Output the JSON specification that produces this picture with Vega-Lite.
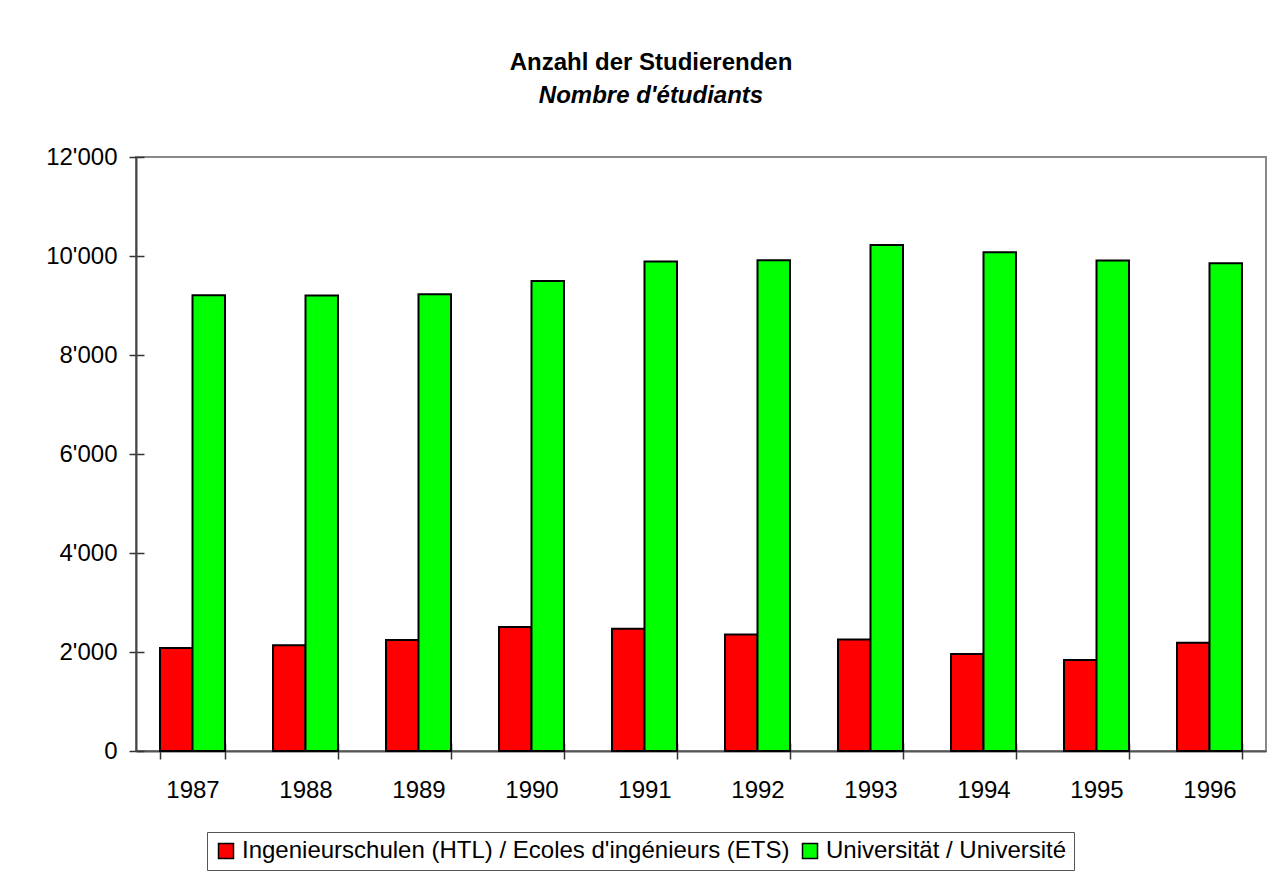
{
  "$schema": "https://vega.github.io/schema/vega-lite/v6.json",
  "width": 1130,
  "height": 594,
  "autosize": "none",
  "padding": {"left": 136, "top": 157, "right": 18, "bottom": 138},
  "background": "white",
  "title": {
    "text": "Anzahl der Studierenden",
    "subtitle": "Nombre d'étudiants",
    "font": "Liberation Sans",
    "fontSize": 24,
    "fontWeight": "bold",
    "color": "black",
    "subtitleFont": "Liberation Sans",
    "subtitleFontSize": 24,
    "subtitleFontWeight": "bold",
    "subtitleFontStyle": "italic",
    "subtitleColor": "black",
    "subtitlePadding": 9,
    "anchor": "middle",
    "dx": -50,
    "offset": 37
  },
  "data": {
    "values": [
      {"year": "1987", "series": "Ingenieurschulen (HTL) / Ecoles d'ingénieurs (ETS)", "students": 2080},
      {"year": "1988", "series": "Ingenieurschulen (HTL) / Ecoles d'ingénieurs (ETS)", "students": 2134},
      {"year": "1989", "series": "Ingenieurschulen (HTL) / Ecoles d'ingénieurs (ETS)", "students": 2241},
      {"year": "1990", "series": "Ingenieurschulen (HTL) / Ecoles d'ingénieurs (ETS)", "students": 2503},
      {"year": "1991", "series": "Ingenieurschulen (HTL) / Ecoles d'ingénieurs (ETS)", "students": 2471},
      {"year": "1992", "series": "Ingenieurschulen (HTL) / Ecoles d'ingénieurs (ETS)", "students": 2356},
      {"year": "1993", "series": "Ingenieurschulen (HTL) / Ecoles d'ingénieurs (ETS)", "students": 2255},
      {"year": "1994", "series": "Ingenieurschulen (HTL) / Ecoles d'ingénieurs (ETS)", "students": 1958},
      {"year": "1995", "series": "Ingenieurschulen (HTL) / Ecoles d'ingénieurs (ETS)", "students": 1837},
      {"year": "1996", "series": "Ingenieurschulen (HTL) / Ecoles d'ingénieurs (ETS)", "students": 2188},
      {"year": "1987", "series": "Universität / Université", "students": 9207},
      {"year": "1988", "series": "Universität / Université", "students": 9200},
      {"year": "1989", "series": "Universität / Université", "students": 9227},
      {"year": "1990", "series": "Universität / Université", "students": 9497},
      {"year": "1991", "series": "Universität / Université", "students": 9887},
      {"year": "1992", "series": "Universität / Université", "students": 9913},
      {"year": "1993", "series": "Universität / Université", "students": 10224},
      {"year": "1994", "series": "Universität / Université", "students": 10075},
      {"year": "1995", "series": "Universität / Université", "students": 9907},
      {"year": "1996", "series": "Universität / Université", "students": 9853}
    ]
  },
  "encoding": {
    "x": {
      "field": "year",
      "type": "nominal",
      "scale": {"paddingInner": 0.425, "paddingOuter": 0.2125}
    },
    "xOffset": {
      "field": "series",
      "type": "nominal",
      "scale": {"paddingInner": 0, "paddingOuter": 0}
    },
    "y": {
      "field": "students",
      "type": "quantitative",
      "scale": {"domain": [0, 12000], "nice": false}
    }
  },
  "layer": [
    {
      "mark": {"type": "bar", "fillOpacity": 0, "strokeOpacity": 0},
      "encoding": {
        "x": {
          "field": "year",
          "type": "nominal",
          "axis": {
            "orient": "bottom",
            "title": null,
            "labels": false,
            "domain": false,
            "grid": false,
            "tickBand": "extent",
            "tickSize": -8,
            "tickColor": "#333",
            "tickWidth": 1.5
          }
        },
        "y": {
          "field": "students",
          "type": "quantitative",
          "axis": {
            "orient": "left",
            "title": null,
            "labels": false,
            "domain": false,
            "grid": false,
            "values": [0, 2000, 4000, 6000, 8000, 10000, 12000],
            "tickSize": -8,
            "tickColor": "#333",
            "tickWidth": 1.5
          }
        }
      }
    },
    {
      "mark": {"type": "bar", "stroke": "black", "strokeWidth": 2},
      "encoding": {
        "x": {
          "field": "year",
          "type": "nominal",
          "axis": {
            "orient": "bottom",
            "title": null,
            "labelAngle": 0,
            "labelFont": "Liberation Sans",
            "labelFontSize": 24,
            "labelColor": "black",
            "labelPadding": 19,
            "tickBand": "extent",
            "tickSize": 8,
            "tickColor": "#333",
            "tickWidth": 1.5,
            "domainColor": "#555",
            "domainWidth": 2,
            "grid": false
          }
        },
        "y": {
          "field": "students",
          "type": "quantitative",
          "axis": {
            "orient": "left",
            "title": null,
            "values": [0, 2000, 4000, 6000, 8000, 10000, 12000],
            "labelExpr": "replace(format(datum.value, ','), ',', \"'\")",
            "labelFont": "Liberation Sans",
            "labelFontSize": 24,
            "labelColor": "black",
            "labelPadding": 12,
            "tickSize": 7,
            "tickColor": "#333",
            "tickWidth": 1.5,
            "domainColor": "#444",
            "domainWidth": 2,
            "grid": false
          }
        },
        "fill": {
          "field": "series",
          "type": "nominal",
          "scale": {
            "domain": ["Ingenieurschulen (HTL) / Ecoles d'ingénieurs (ETS)", "Universität / Université"],
            "range": ["#ff0000", "#00ff00"]
          },
          "legend": {
            "title": null,
            "orient": "none",
            "legendX": 71,
            "legendY": 675,
            "direction": "horizontal",
            "columns": 2,
            "symbolType": "square",
            "symbolSize": 225,
            "symbolStrokeColor": "black",
            "symbolStrokeWidth": 1.5,
            "symbolOpacity": 1,
            "labelFont": "Liberation Sans",
            "labelFontSize": 24,
            "labelColor": "black",
            "labelLimit": 900,
            "labelOffset": 4,
            "columnPadding": 8,
            "strokeColor": "#555",
            "padding": 7
          }
        }
      }
    }
  ],
  "resolve": {"axis": {"x": "independent", "y": "independent"}},
  "config": {
    "view": {"stroke": "#888", "strokeWidth": 2}
  }
}
